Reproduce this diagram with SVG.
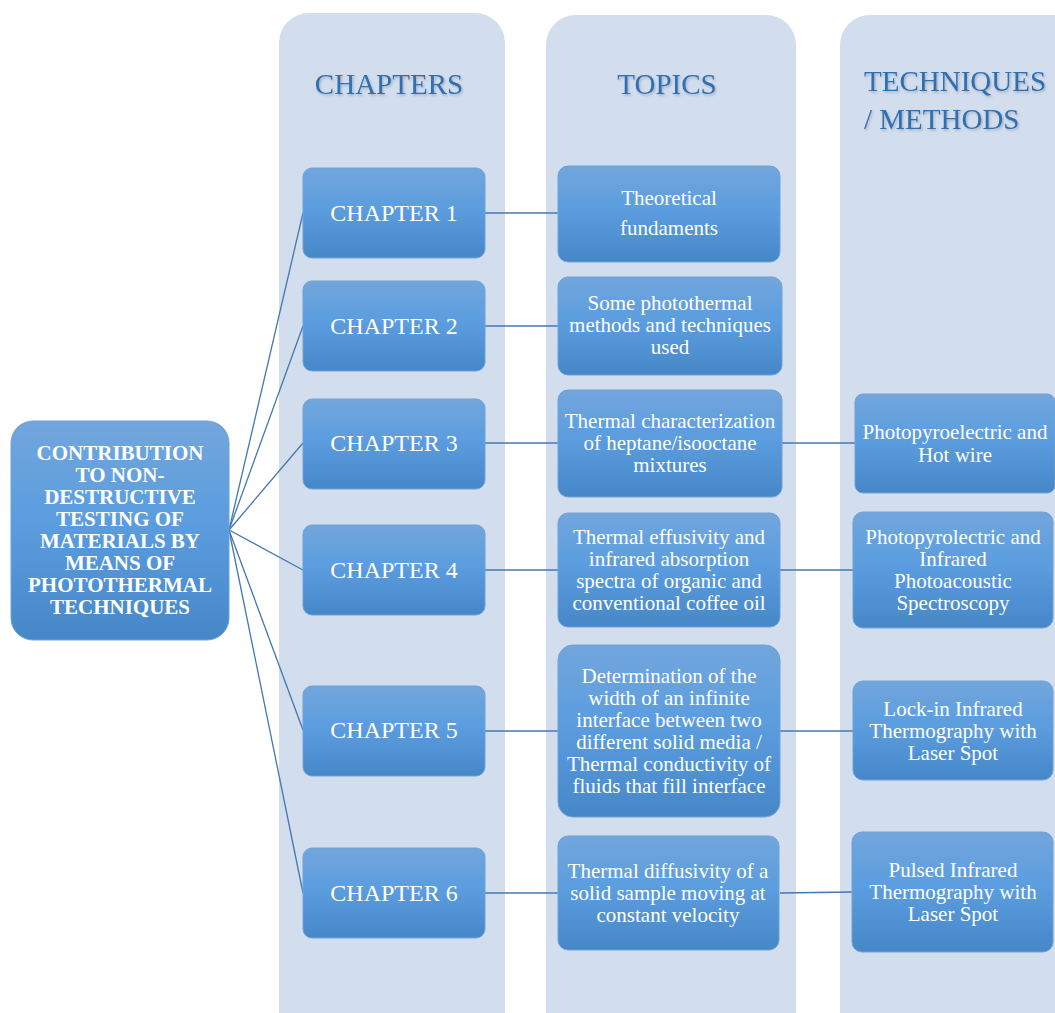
<svg xmlns="http://www.w3.org/2000/svg" width="1055" height="1013" viewBox="0 0 1055 1013" font-family="'Liberation Serif', 'Times New Roman', serif">
  <defs>
    <linearGradient id="boxFill" x1="0" y1="0" x2="0" y2="1">
      <stop offset="0" stop-color="#72a6dc"/>
      <stop offset="0.45" stop-color="#5b9ddf"/>
      <stop offset="1" stop-color="#4587c7"/>
    </linearGradient>
    <filter id="headShadow" x="-10%" y="-20%" width="120%" height="150%">
      <feDropShadow dx="1.2" dy="1.6" stdDeviation="0.8" flood-color="#7a8aa0" flood-opacity="0.55"/>
    </filter>
  </defs>
  <style>
    .lane { fill: #d2ddee; }
    .box { fill: url(#boxFill); stroke: #6fa2d6; stroke-width: 1; }
    text { font-family: "Liberation Serif", "Times New Roman", serif; }
    .head { font-size: 29px; fill: #2f6fb0; filter: url(#headShadow); }
    .chap { font-size: 24px; fill: #ffffff; text-anchor: middle; }
    .txt { font-size: 21px; fill: #ffffff; text-anchor: middle; }
    .main { font-size: 21px; font-weight: bold; fill: #ffffff; text-anchor: middle; }
    .link { stroke: #4477b0; stroke-width: 1.3; fill: none; }
  </style>

  <rect width="1055" height="1013" fill="#ffffff"/>

  <!-- column lanes -->
  <g id="lanes">
    <rect class="lane" x="279" y="13" width="226" height="1040" rx="30"/>
    <rect class="lane" x="546" y="15" width="250" height="1040" rx="30"/>
    <rect class="lane" x="840" y="15" width="250" height="1040" rx="30"/>
  </g>

  <!-- column headings -->
  <g id="headings">
    <text class="head" x="389" y="94" text-anchor="middle">CHAPTERS</text>
    <text class="head" x="667" y="94" text-anchor="middle">TOPICS</text>
    <text class="head" x="864" y="91">TECHNIQUES</text>
    <text class="head" x="864" y="129">/ METHODS</text>
  </g>

  <!-- connectors -->
  <g id="connectors">
    <line class="link" x1="229" y1="530" x2="303" y2="213"/>
    <line class="link" x1="229" y1="530" x2="303" y2="326"/>
    <line class="link" x1="229" y1="530" x2="303" y2="443"/>
    <line class="link" x1="229" y1="530" x2="303" y2="570"/>
    <line class="link" x1="229" y1="530" x2="303" y2="730"/>
    <line class="link" x1="229" y1="530" x2="303" y2="893"/>
    <line class="link" x1="485" y1="213" x2="558" y2="213"/>
    <line class="link" x1="485" y1="326" x2="558" y2="326"/>
    <line class="link" x1="485" y1="443" x2="558" y2="443"/>
    <line class="link" x1="485" y1="570" x2="558" y2="570"/>
    <line class="link" x1="485" y1="731" x2="558" y2="731"/>
    <line class="link" x1="485" y1="893" x2="558" y2="893"/>
    <line class="link" x1="782" y1="443" x2="855" y2="443"/>
    <line class="link" x1="780" y1="570" x2="853" y2="570"/>
    <line class="link" x1="780" y1="731" x2="853" y2="731"/>
    <line class="link" x1="780" y1="893" x2="852" y2="892"/>
  </g>

  <!-- root -->
  <g id="root">
    <rect class="box" x="11" y="421" width="218" height="219" rx="22"/>
    <text class="main" x="120" y="460">CONTRIBUTION</text>
    <text class="main" x="120" y="482">TO NON-</text>
    <text class="main" x="120" y="504">DESTRUCTIVE</text>
    <text class="main" x="120" y="526">TESTING OF</text>
    <text class="main" x="120" y="548">MATERIALS BY</text>
    <text class="main" x="120" y="570">MEANS OF</text>
    <text class="main" x="120" y="592">PHOTOTHERMAL</text>
    <text class="main" x="120" y="614">TECHNIQUES</text>
  </g>

  <!-- chapters -->
  <g id="chapter1">
    <rect class="box" x="303" y="168" width="182" height="90" rx="9"/>
    <text class="chap" x="394" y="221">CHAPTER 1</text>
  </g>
  <g id="chapter2">
    <rect class="box" x="303" y="281" width="182" height="90" rx="9"/>
    <text class="chap" x="394" y="334">CHAPTER 2</text>
  </g>
  <g id="chapter3">
    <rect class="box" x="303" y="399" width="182" height="90" rx="9"/>
    <text class="chap" x="394" y="451">CHAPTER 3</text>
  </g>
  <g id="chapter4">
    <rect class="box" x="303" y="525" width="182" height="90" rx="9"/>
    <text class="chap" x="394" y="578">CHAPTER 4</text>
  </g>
  <g id="chapter5">
    <rect class="box" x="303" y="686" width="182" height="90" rx="9"/>
    <text class="chap" x="394" y="738">CHAPTER 5</text>
  </g>
  <g id="chapter6">
    <rect class="box" x="303" y="848" width="182" height="90" rx="9"/>
    <text class="chap" x="394" y="901">CHAPTER 6</text>
  </g>

  <!-- topics -->
  <g id="topic1">
    <rect class="box" x="558" y="166" width="222" height="96" rx="10"/>
    <text class="txt" x="669" y="205">Theoretical</text>
    <text class="txt" x="669" y="235">fundaments</text>
  </g>
  <g id="topic2">
    <rect class="box" x="558" y="277" width="224" height="98" rx="10"/>
    <text class="txt" x="670" y="310">Some photothermal</text>
    <text class="txt" x="670" y="332">methods and techniques</text>
    <text class="txt" x="670" y="354">used</text>
  </g>
  <g id="topic3">
    <rect class="box" x="558" y="390" width="224" height="107" rx="10"/>
    <text class="txt" x="670" y="428">Thermal characterization</text>
    <text class="txt" x="670" y="450">of heptane/isooctane</text>
    <text class="txt" x="670" y="472">mixtures</text>
  </g>
  <g id="topic4">
    <rect class="box" x="558" y="513" width="222" height="114" rx="10"/>
    <text class="txt" x="669" y="544">Thermal effusivity and</text>
    <text class="txt" x="669" y="566">infrared absorption</text>
    <text class="txt" x="669" y="588">spectra of organic and</text>
    <text class="txt" x="669" y="610">conventional coffee oil</text>
  </g>
  <g id="topic5">
    <rect class="box" x="558" y="645" width="222" height="172" rx="15"/>
    <text class="txt" x="669" y="683">Determination of the</text>
    <text class="txt" x="669" y="705">width of an infinite</text>
    <text class="txt" x="669" y="727">interface between two</text>
    <text class="txt" x="669" y="749">different solid media /</text>
    <text class="txt" x="669" y="771">Thermal conductivity of</text>
    <text class="txt" x="669" y="793">fluids that fill interface</text>
  </g>
  <g id="topic6">
    <rect class="box" x="558" y="836" width="221" height="114" rx="10"/>
    <text class="txt" x="668" y="878">Thermal diffusivity of a</text>
    <text class="txt" x="668" y="900">solid sample moving at</text>
    <text class="txt" x="668" y="922">constant velocity</text>
  </g>

  <!-- techniques / methods -->
  <g id="method3">
    <rect class="box" x="855" y="394" width="200" height="99" rx="8"/>
    <text class="txt" x="955" y="439">Photopyroelectric and</text>
    <text class="txt" x="955" y="462">Hot wire</text>
  </g>
  <g id="method4">
    <rect class="box" x="853" y="512" width="200" height="116" rx="10"/>
    <text class="txt" x="953" y="544">Photopyrolectric and</text>
    <text class="txt" x="953" y="566">Infrared</text>
    <text class="txt" x="953" y="588">Photoacoustic</text>
    <text class="txt" x="953" y="610">Spectroscopy</text>
  </g>
  <g id="method5">
    <rect class="box" x="853" y="681" width="200" height="99" rx="10"/>
    <text class="txt" x="953" y="716">Lock-in Infrared</text>
    <text class="txt" x="953" y="738">Thermography with</text>
    <text class="txt" x="953" y="760">Laser Spot</text>
  </g>
  <g id="method6">
    <rect class="box" x="852" y="832" width="201" height="120" rx="10"/>
    <text class="txt" x="953" y="877">Pulsed Infrared</text>
    <text class="txt" x="953" y="899">Thermography with</text>
    <text class="txt" x="953" y="921">Laser Spot</text>
  </g>
</svg>
